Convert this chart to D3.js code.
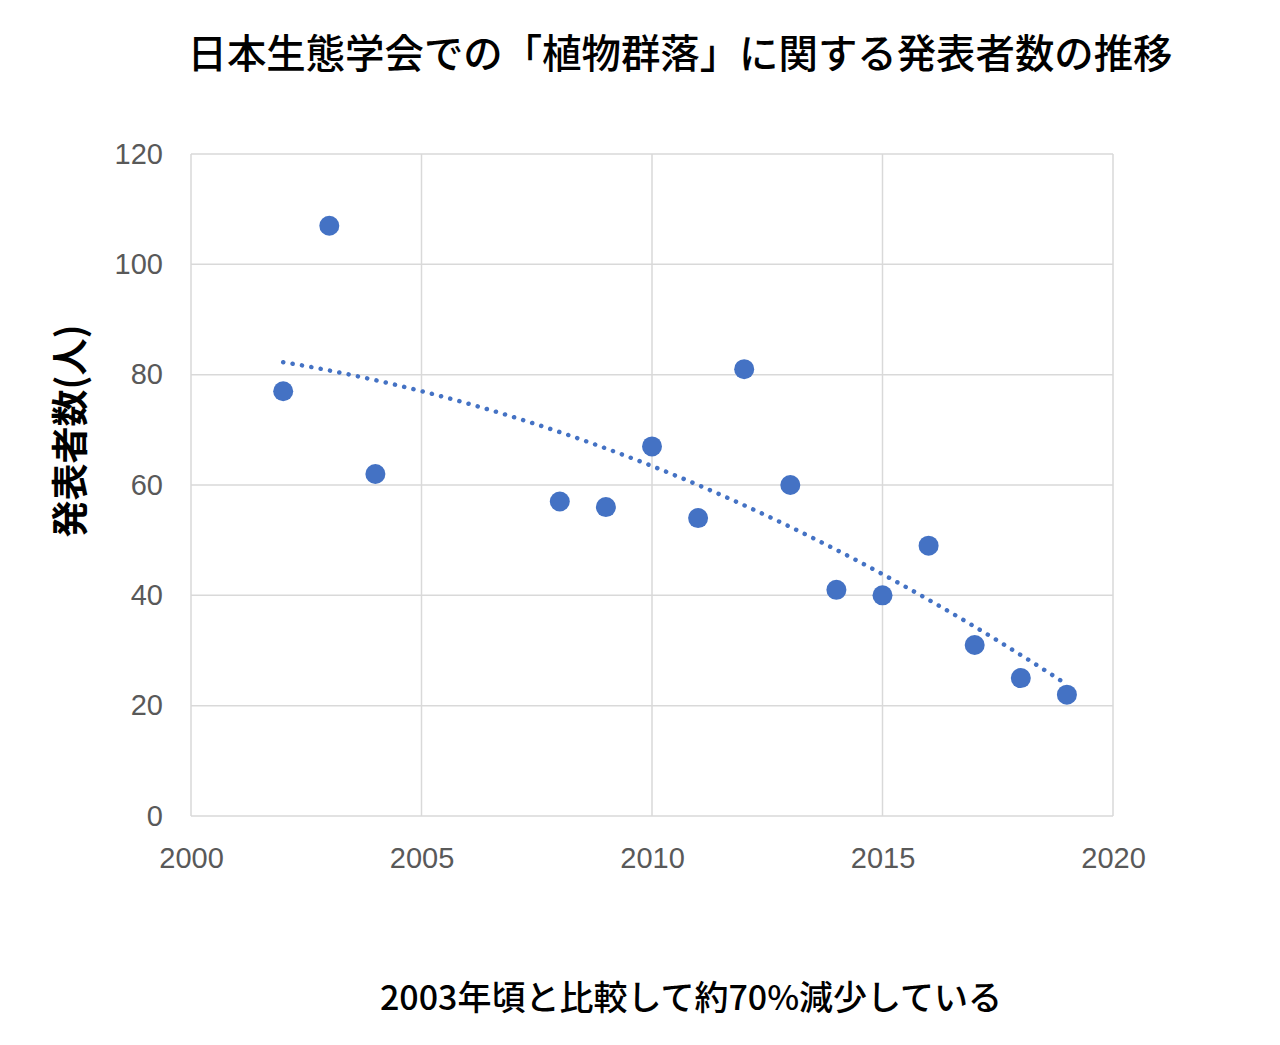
<!DOCTYPE html>
<html>
<head>
<meta charset="utf-8">
<script src="https://cdn.jsdelivr.net/npm/d3@7"></script>
<style>
  body { margin: 0; background: #fff; }
  svg { display: block; }
</style>
</head>
<body>
<script>
const years = [2002, 2003, 2004, 2008, 2009, 2010, 2011, 2012, 2013, 2014, 2015, 2016, 2017, 2018, 2019]
const counts = [77, 107, 62, 57, 56, 67, 54, 81, 60, 41, 40, 49, 31, 25, 22]
const xTicks = [2000, 2005, 2010, 2015, 2020]
const yTicks = [0, 20, 40, 60, 80, 100, 120]

const titleText = '日本生態学会での「植物群落」に関する発表者数の推移'
const yLabel = '発表者数(人)'
const noteText = '2003年頃と比較して約70%減少している'

const width = 1280, height = 1045
const margin = { left: 191, right: 167, top: 154, bottom: 229 }

const svg = d3.select('body').append('svg')
    .attr('width', width)
    .attr('height', height)

const x = d3.scaleLinear().domain([2000, 2020]).range([margin.left, width - margin.right])
const y = d3.scaleLinear().domain([0, 120]).range([height - margin.bottom, margin.top])

const font = '"Noto Sans CJK JP", "Noto Sans", sans-serif'

// gridlines
svg.append('g').selectAll('line.h')
    .data(yTicks)
    .enter().append('line')
    .attr('x1', x(2000)).attr('x2', x(2020))
    .attr('y1', d => y(d)).attr('y2', d => y(d))
    .attr('stroke', '#d9d9d9').attr('stroke-width', 1.5)

svg.append('g').selectAll('line.v')
    .data(xTicks)
    .enter().append('line')
    .attr('x1', d => x(d)).attr('x2', d => x(d))
    .attr('y1', y(0)).attr('y2', y(120))
    .attr('stroke', '#d9d9d9').attr('stroke-width', 1.5)

// axes labels
const yAxis = d3.axisLeft(y).tickValues(yTicks).tickSize(0).tickPadding(28)
const xAxis = d3.axisBottom(x).tickValues(xTicks).tickSize(0).tickPadding(31).tickFormat(d3.format('d'))

const gy = svg.append('g').attr('transform', `translate(${margin.left},0)`).call(yAxis)
const gx = svg.append('g').attr('transform', `translate(0,${y(0)})`).call(xAxis)
;[gx, gy].forEach(g => {
    g.select('.domain').remove()
    g.selectAll('text')
        .attr('font-family', '"Liberation Sans", sans-serif')
        .attr('font-size', 29)
        .attr('fill', '#595959')
})

// quadratic trendline (least squares fit of the data)
const fitQuad = (xs, ys) => {
    const x0 = d3.mean(xs)
    const u = xs.map(v => v - x0)
    const s = k => d3.sum(u, v => Math.pow(v, k))
    const t = k => d3.sum(u, (v, i) => Math.pow(v, k) * ys[i])
    const n = xs.length
    const A = [[n, s(1), s(2)], [s(1), s(2), s(3)], [s(2), s(3), s(4)]]
    const b = [t(0), t(1), t(2)]
    for (let i = 0; i < 3; i++) {
        for (let j = i + 1; j < 3; j++) {
            const f = A[j][i] / A[i][i]
            for (let k = i; k < 3; k++) A[j][k] -= f * A[i][k]
            b[j] -= f * b[i]
        }
    }
    const c = [0, 0, 0]
    for (let i = 2; i >= 0; i--) {
        let acc = b[i]
        for (let k = i + 1; k < 3; k++) acc -= A[i][k] * c[k]
        c[i] = acc / A[i][i]
    }
    return v => c[0] + c[1] * (v - x0) + c[2] * (v - x0) * (v - x0)
}
const trend = fitQuad(years, counts)
const trendPts = d3.range(d3.min(years), d3.max(years) + 0.001, 0.1)

svg.append('path')
    .datum(trendPts)
    .attr('d', d3.line().x(d => x(d)).y(d => y(trend(d))))
    .attr('fill', 'none')
    .attr('stroke', '#4472c4')
    .attr('stroke-width', 4.5)
    .attr('stroke-linecap', 'round')
    .attr('stroke-dasharray', '0.1 9.4')

// points
svg.append('g').selectAll('circle')
    .data(years)
    .enter().append('circle')
    .attr('cx', d => x(d))
    .attr('cy', (d, i) => y(counts[i]))
    .attr('r', 10)
    .attr('fill', '#4472c4')

// title
svg.append('text')
    .attr('x', 680).attr('y', 68)
    .attr('text-anchor', 'middle')
    .attr('font-family', font)
    .attr('font-weight', 500)
    .attr('font-size', 40)
    .attr('textLength', 985)
    .attr('lengthAdjust', 'spacingAndGlyphs')
    .text(titleText)

// y label
svg.append('text')
    .attr('transform', 'translate(84,431) rotate(-90)')
    .attr('text-anchor', 'middle')
    .attr('font-family', font)
    .attr('font-weight', 700)
    .attr('font-size', 37)
    .text(yLabel)

// note
svg.append('text')
    .attr('x', 691).attr('y', 1010)
    .attr('text-anchor', 'middle')
    .attr('font-family', font)
    .attr('font-weight', 500)
    .attr('font-size', 34)
    .text(noteText)
</script>
</body>
</html>
